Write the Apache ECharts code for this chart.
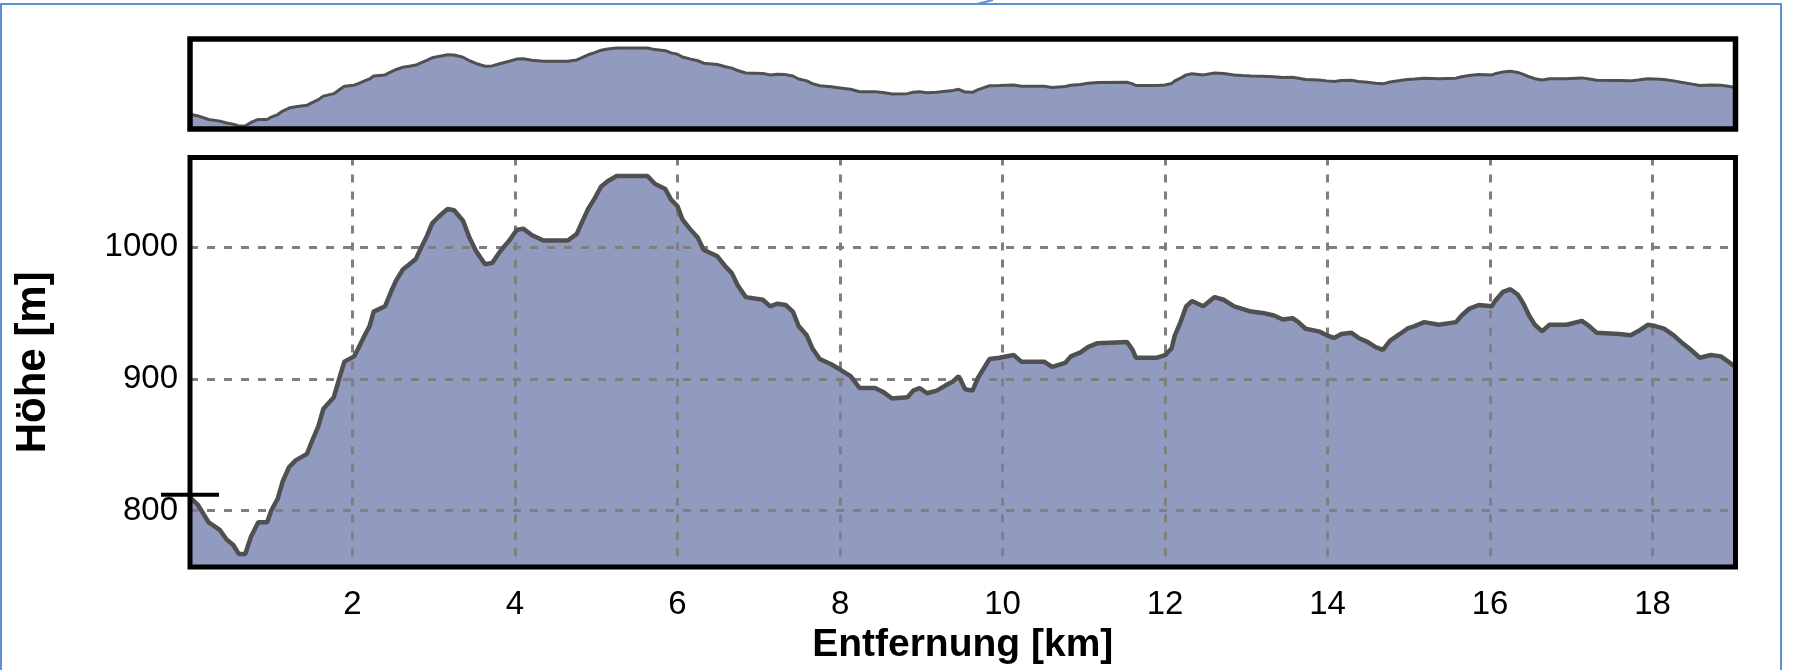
<!DOCTYPE html>
<html lang="de">
	<head>
		<meta charset="utf-8" />
		<title>Höhenprofil</title>
		<style>
			html, body { margin: 0; padding: 0; background: #fff; }
			#profil { width: 1793px; height: 670px; }
		</style>
	</head>
	<body>
		<div id="profil"></div>

		<script type="text/javascript" src="https://cdn.jsdelivr.net/npm/echarts@6.0.0/dist/echarts.min.js"></script>
		<script type="text/javascript">
			// Entfernung [km]
			var distKm = [
				0.0, 0.1, 0.23, 0.37, 0.45, 0.53, 0.6, 0.68, 0.75, 0.84, 0.95, 1.0, 1.08, 1.14, 1.22, 1.3, 1.44, 1.49, 1.58, 1.64,
				1.77, 1.85, 1.9, 2.02, 2.07, 2.15, 2.21, 2.26, 2.4, 2.48, 2.54, 2.62, 2.7, 2.78, 2.84, 2.92, 2.98, 3.06, 3.17, 3.25,
				3.36, 3.44, 3.52, 3.63, 3.72, 3.82, 3.93, 4.02, 4.1, 4.21, 4.35, 4.65, 4.76, 4.81, 4.9, 4.98, 5.06, 5.14, 5.25, 5.63,
				5.72, 5.85, 5.92, 6.0, 6.06, 6.15, 6.25, 6.32, 6.49, 6.58, 6.67, 6.74, 6.84, 7.05, 7.14, 7.23, 7.33, 7.42, 7.49, 7.59,
				7.66, 7.75, 7.89, 8.0, 8.13, 8.24, 8.43, 8.53, 8.64, 8.83, 8.9, 8.98, 9.07, 9.19, 9.3, 9.39, 9.46, 9.54, 9.63, 9.7,
				9.77, 9.84, 9.96, 10.14, 10.23, 10.51, 10.61, 10.77, 10.84, 10.96, 11.05, 11.17, 11.53, 11.6, 11.64, 11.9, 12.0, 12.08, 12.12, 12.19,
				12.26, 12.33, 12.47, 12.61, 12.72, 12.85, 12.95, 13.06, 13.2, 13.34, 13.45, 13.57, 13.64, 13.73, 13.89, 13.99, 14.08, 14.17, 14.29, 14.38,
				14.49, 14.59, 14.68, 14.77, 14.89, 14.98, 15.07, 15.19, 15.37, 15.58, 15.65, 15.74, 15.86, 16.02, 16.06, 16.16, 16.25, 16.34, 16.41, 16.48,
				16.55, 16.64, 16.73, 16.94, 17.13, 17.22, 17.31, 17.59, 17.73, 17.82, 17.94, 18.03, 18.14, 18.26, 18.35, 18.47, 18.58, 18.72, 18.84, 18.93,
				19.02
			];
			// Höhe [m]
			var hoehe = [
				810, 804, 791, 785, 778, 774, 767, 767, 780, 791, 791, 800, 809, 822, 833, 838, 843, 851, 864, 877,
				886, 903, 913, 917, 923, 933, 940, 951, 955, 967, 975, 983, 987, 991, 999, 1009, 1018, 1023, 1029, 1028,
				1020, 1007, 997, 987, 988, 997, 1005, 1013, 1014, 1009, 1005, 1005, 1010, 1017, 1029, 1037, 1046, 1050, 1054, 1054,
				1048, 1044, 1036, 1031, 1021, 1014, 1007, 998, 993, 986, 980, 971, 962, 960, 955, 957, 956, 951, 940, 933,
				923, 915, 911, 907, 902, 893, 893, 890, 885, 886, 891, 893, 889, 891, 895, 898, 902, 892, 891, 901,
				908, 915, 916, 918, 913, 913, 909, 912, 917, 920, 924, 927, 928, 922, 916, 916, 918, 923, 933, 943,
				955, 959, 955, 962, 960, 955, 953, 951, 950, 948, 945, 946, 943, 938, 936, 933, 931, 934, 935, 931,
				928, 924, 922, 929, 934, 938, 940, 943, 941, 943, 948, 953, 956, 955, 959, 966, 968, 964, 957, 948,
				941, 936, 941, 941, 944, 940, 935, 934, 933, 936, 941, 940, 938, 933, 928, 922, 916, 918, 917, 913,
				909
			];
			// Starthöhe (schwarze Marke links)
			var startHoehe = 812;
			var yTicks = [800, 900, 1000];
			var xTicks = [2, 4, 6, 8, 10, 12, 14, 16, 18];

			var punkte = distKm.map(function (d, i) { return [d, hoehe[i]]; });

			var fuellFarbe = '#919bc0';
			var linienFarbe = '#505050';
			var gitterFarbe = '#7f7f7f';
			var schrift = '"Liberation Sans", Arial, sans-serif';

			var chart = echarts.init(document.getElementById('profil'));

			var option = {
				animation: false,
				grid: [
					{ left: 190, right: 57.5, top: 157.5, bottom: 92, show: true, borderColor: '#000', borderWidth: 5, backgroundColor: 'transparent', z: 6 },
					{ left: 190, right: 57.5, top: 39, height: 90, show: true, borderColor: '#000', borderWidth: 5.5, backgroundColor: 'transparent', z: 6 }
				],
				xAxis: [
					{
						type: 'value', gridIndex: 0, min: 0, max: 19.02, interval: 2, z: 3,
						name: 'Entfernung [km]', nameLocation: 'middle', nameGap: 54,
						nameTextStyle: { fontFamily: schrift, fontSize: 39, fontWeight: 'bold', color: '#000' },
						axisLine: { show: false }, axisTick: { show: false },
						axisLabel: {
							margin: 21, fontFamily: schrift, fontSize: 33, color: '#000',
							formatter: function (v) { return xTicks.indexOf(v) >= 0 ? String(v) : ''; }
						},
						splitLine: { show: true, lineStyle: { color: gitterFarbe, width: 3, type: [8, 9] } }
					},
					{
						type: 'value', gridIndex: 1, min: 0, max: 19.02,
						axisLine: { show: false }, axisTick: { show: false }, axisLabel: { show: false }, splitLine: { show: false }
					}
				],
				yAxis: [
					{
						type: 'value', gridIndex: 0, min: 757, max: 1068, splitNumber: 3, z: 3,
						name: 'Höhe [m]', nameLocation: 'middle', nameGap: 136, nameRotate: 90,
						nameTextStyle: { fontFamily: schrift, fontSize: 42, fontWeight: 'bold', color: '#000' },
						axisLine: { show: false }, axisTick: { show: false },
						axisLabel: {
							margin: 12, fontFamily: schrift, fontSize: 33, color: '#000',
							formatter: function (v) { return yTicks.indexOf(v) >= 0 ? String(v) : ''; }
						},
						splitLine: { show: true, lineStyle: { color: gitterFarbe, width: 3, type: [8, 9] } }
					},
					{
						type: 'value', gridIndex: 1, min: 756, max: 1087,
						axisLine: { show: false }, axisTick: { show: false }, axisLabel: { show: false }, splitLine: { show: false }
					}
				],
				series: [
					// Fläche unter den Gitterlinien
					{
						type: 'line', xAxisIndex: 0, yAxisIndex: 0, data: punkte, z: 2,
						symbol: 'none', lineStyle: { width: 0, opacity: 0 },
						areaStyle: { color: fuellFarbe, opacity: 1, origin: 'start' }
					},
					// Profillinie über den Gitterlinien
					{
						type: 'line', xAxisIndex: 0, yAxisIndex: 0, data: punkte, z: 4,
						symbol: 'none', lineStyle: { color: linienFarbe, width: 4.5 }
					},
					// Übersicht oben
					{
						type: 'line', xAxisIndex: 1, yAxisIndex: 1, data: punkte, z: 4,
						symbol: 'none', lineStyle: { color: linienFarbe, width: 3 },
						areaStyle: { color: fuellFarbe, opacity: 1, origin: 'start' }
					}
				]
			};
			chart.setOption(option);

			// schwarze Startmarke und blauer Rahmen
			var p = chart.convertToPixel({ xAxisIndex: 0, yAxisIndex: 0 }, [0, startHoehe]);
			chart.setOption({
				graphic: [
					{
						type: 'line', z: 10,
						shape: { x1: p[0] - 29, y1: p[1], x2: p[0] + 29, y2: p[1] },
						style: { stroke: '#000', lineWidth: 4 }
					},
					{
						type: 'polyline', z: 10,
						shape: { points: [[1, 670], [1, 4], [1781, 4], [1781, 670]] },
						style: { stroke: '#5f8fd3', lineWidth: 2, fill: null }
					},
					{
						type: 'line', z: 10,
						shape: { x1: 977, y1: 4, x2: 993, y2: 0 },
						style: { stroke: '#5f8fd3', lineWidth: 2 }
					}
				]
			});
		</script>
	</body>
</html>
